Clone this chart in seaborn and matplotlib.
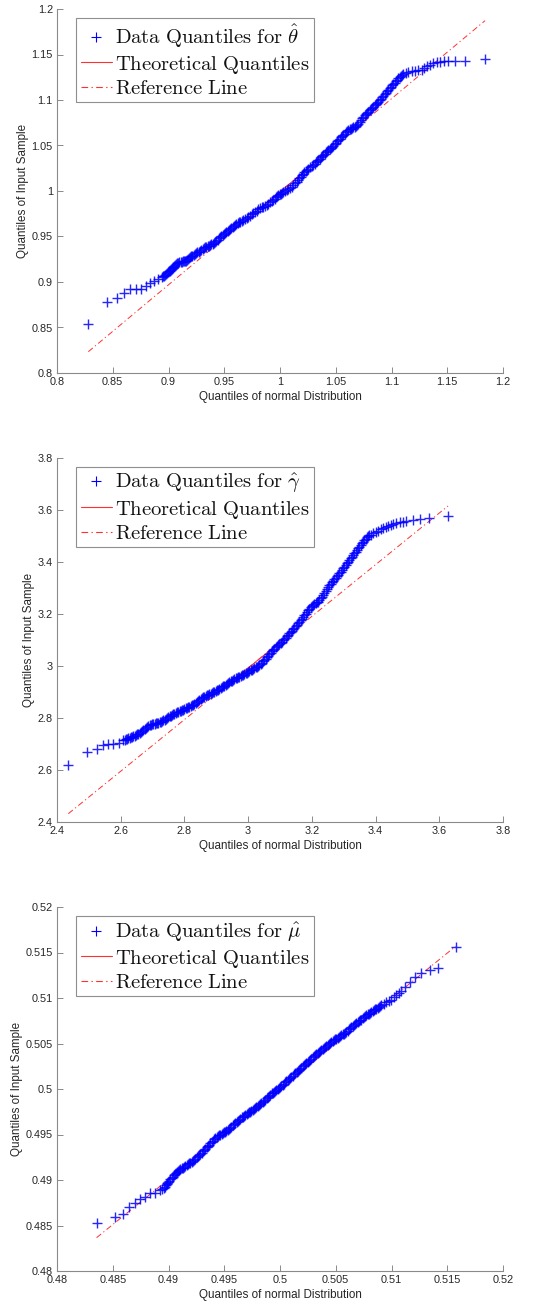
import numpy as np
import pandas as pd
import matplotlib
matplotlib.use("Agg")
import matplotlib.pyplot as plt
from matplotlib.lines import Line2D
import seaborn as sns

# ---------------- data ----------------
theta_x = [0.8281, 0.8451, 0.8541, 0.8604, 0.8655, 0.8706, 0.8753, 0.8798, 0.8834, 0.8870, 0.8909, 0.8945,
           0.8952, 0.8960, 0.8968, 0.8975, 0.8985, 0.8995, 0.9005, 0.9014, 0.9022, 0.9029, 0.9037, 0.9044,
           0.9053, 0.9062, 0.9071, 0.9079, 0.9089, 0.9098, 0.9108, 0.9118, 0.9128, 0.9137, 0.9147, 0.9157,
           0.9166, 0.9175, 0.9184, 0.9193, 0.9204, 0.9215, 0.9227, 0.9238, 0.9249, 0.9260, 0.9272, 0.9283,
           0.9294, 0.9305, 0.9317, 0.9328, 0.9339, 0.9350, 0.9361, 0.9372, 0.9384, 0.9395, 0.9406, 0.9417,
           0.9429, 0.9440, 0.9451, 0.9462, 0.9474, 0.9485, 0.9496, 0.9507, 0.9519, 0.9530, 0.9541, 0.9552,
           0.9564, 0.9575, 0.9586, 0.9597, 0.9609, 0.9620, 0.9631, 0.9642, 0.9656, 0.9671, 0.9686, 0.9701,
           0.9716, 0.9731, 0.9746, 0.9761, 0.9776, 0.9791, 0.9806, 0.9821, 0.9836, 0.9851, 0.9866, 0.9881,
           0.9896, 0.9911, 0.9926, 0.9941, 0.9952, 0.9963, 0.9974, 0.9985, 0.9997, 1.0008, 1.0019, 1.0030,
           1.0045, 1.0060, 1.0075, 1.0090, 1.0105, 1.0120, 1.0135, 1.0150, 1.0161, 1.0172, 1.0184, 1.0195,
           1.0206, 1.0217, 1.0229, 1.0240, 1.0255, 1.0270, 1.0285, 1.0299, 1.0311, 1.0322, 1.0333, 1.0344,
           1.0356, 1.0367, 1.0378, 1.0389, 1.0401, 1.0412, 1.0423, 1.0434, 1.0446, 1.0457, 1.0468, 1.0479,
           1.0491, 1.0502, 1.0513, 1.0524, 1.0535, 1.0546, 1.0557, 1.0568, 1.0580, 1.0591, 1.0602, 1.0613,
           1.0625, 1.0636, 1.0647, 1.0658, 1.0670, 1.0681, 1.0692, 1.0703, 1.0715, 1.0726, 1.0737, 1.0748,
           1.0760, 1.0771, 1.0782, 1.0793, 1.0805, 1.0816, 1.0827, 1.0838, 1.0849, 1.0860, 1.0871, 1.0882,
           1.0894, 1.0905, 1.0916, 1.0927, 1.0939, 1.0950, 1.0961, 1.0972, 1.0984, 1.0995, 1.1006, 1.1017,
           1.1029, 1.1040, 1.1051, 1.1062, 1.1074, 1.1085, 1.1096, 1.1107,
           1.1130, 1.1152, 1.1181, 1.1211, 1.1241, 1.1271, 1.1294, 1.1316, 1.1346, 1.1376, 1.1406, 1.1436,
           1.1473, 1.1510, 1.1570, 1.1660, 1.1839]
theta_y = [0.8535, 0.8784, 0.8828, 0.8875, 0.8919, 0.8919, 0.8927, 0.8960, 0.8985, 0.9011, 0.9029, 0.9051,
           0.9062, 0.9070, 0.9079, 0.9088, 0.9098, 0.9107, 0.9116, 0.9125, 0.9136, 0.9147, 0.9158, 0.9169,
           0.9179, 0.9188, 0.9197, 0.9205, 0.9211, 0.9215, 0.9219, 0.9223, 0.9226, 0.9228, 0.9231, 0.9234,
           0.9243, 0.9252, 0.9262, 0.9271, 0.9281, 0.9290, 0.9299, 0.9308, 0.9317, 0.9326, 0.9335, 0.9344,
           0.9353, 0.9362, 0.9372, 0.9381, 0.9388, 0.9394, 0.9400, 0.9407, 0.9415, 0.9423, 0.9431, 0.9440,
           0.9453, 0.9466, 0.9479, 0.9491, 0.9502, 0.9513, 0.9524, 0.9535, 0.9548, 0.9561, 0.9574, 0.9586,
           0.9596, 0.9606, 0.9616, 0.9626, 0.9636, 0.9645, 0.9654, 0.9663, 0.9673, 0.9682, 0.9691, 0.9700,
           0.9714, 0.9728, 0.9742, 0.9755, 0.9769, 0.9783, 0.9797, 0.9810, 0.9819, 0.9828, 0.9837, 0.9846,
           0.9860, 0.9874, 0.9888, 0.9901, 0.9915, 0.9929, 0.9943, 0.9956, 0.9963, 0.9970, 0.9978, 0.9985,
           0.9996, 1.0007, 1.0018, 1.0029, 1.0048, 1.0066, 1.0085, 1.0103, 1.0122, 1.0140, 1.0158, 1.0176,
           1.0190, 1.0204, 1.0218, 1.0231, 1.0245, 1.0259, 1.0273, 1.0286, 1.0300, 1.0314, 1.0328, 1.0341,
           1.0355, 1.0369, 1.0383, 1.0396, 1.0410, 1.0424, 1.0438, 1.0451, 1.0463, 1.0475, 1.0487, 1.0498,
           1.0514, 1.0529, 1.0545, 1.0560, 1.0574, 1.0588, 1.0602, 1.0615, 1.0629, 1.0643, 1.0657, 1.0670,
           1.0678, 1.0686, 1.0693, 1.0700, 1.0708, 1.0716, 1.0726, 1.0736, 1.0757, 1.0777, 1.0797, 1.0817,
           1.0831, 1.0845, 1.0859, 1.0872, 1.0886, 1.0900, 1.0914, 1.0927, 1.0941, 1.0955, 1.0969, 1.0982,
           1.0998, 1.1013, 1.1029, 1.1044, 1.1061, 1.1077, 1.1094, 1.1110, 1.1127, 1.1143, 1.1160, 1.1176,
           1.1192, 1.1207, 1.1223, 1.1238, 1.1250, 1.1262, 1.1274, 1.1286,
           1.1300, 1.1311, 1.1318, 1.1322, 1.1326, 1.1330, 1.1352, 1.1374, 1.1390, 1.1403, 1.1413, 1.1421,
           1.1426, 1.1429, 1.1429, 1.1432, 1.1447]
theta_ref_x = [0.8281, 1.1839]
theta_ref_y = [0.8234, 1.1872]
theta_theo_x = [0.9695, 1.0425]
theta_theo_y = [0.9680, 1.0426]

gamma_x = [2.4356, 2.4931, 2.5244, 2.5453, 2.5610, 2.5767, 2.5945, 2.6081,
           2.6120, 2.6160, 2.6199, 2.6238, 2.6277, 2.6316, 2.6355, 2.6394, 2.6433, 2.6473, 2.6512, 2.6551,
           2.6590, 2.6630, 2.6669, 2.6708, 2.6747, 2.6787, 2.6826, 2.6865, 2.6904, 2.6944, 2.6983, 2.7022,
           2.7061, 2.7100, 2.7140, 2.7179, 2.7218, 2.7258, 2.7297, 2.7336, 2.7375, 2.7414, 2.7453, 2.7492,
           2.7532, 2.7571, 2.7610, 2.7649, 2.7688, 2.7728, 2.7767, 2.7806, 2.7846, 2.7885, 2.7924, 2.7963,
           2.8002, 2.8042, 2.8081, 2.8120, 2.8159, 2.8198, 2.8238, 2.8277, 2.8316, 2.8355, 2.8394, 2.8433,
           2.8472, 2.8512, 2.8551, 2.8590, 2.8629, 2.8668, 2.8708, 2.8747, 2.8786, 2.8826, 2.8865, 2.8904,
           2.8943, 2.8982, 2.9022, 2.9061, 2.9100, 2.9140, 2.9179, 2.9218, 2.9257, 2.9296, 2.9335, 2.9374,
           2.9414, 2.9453, 2.9492, 2.9531, 2.9570, 2.9610, 2.9649, 2.9688, 2.9727, 2.9766, 2.9806, 2.9845,
           2.9884, 2.9924, 2.9963, 3.0002, 3.0041, 3.0080, 3.0120, 3.0159, 3.0198, 3.0237, 3.0276, 3.0315,
           3.0354, 3.0394, 3.0433, 3.0472, 3.0511, 3.0550, 3.0590, 3.0629, 3.0668, 3.0708, 3.0747, 3.0786,
           3.0825, 3.0864, 3.0904, 3.0943, 3.0982, 3.1022, 3.1061, 3.1100, 3.1139, 3.1178, 3.1217, 3.1256,
           3.1295, 3.1334, 3.1374, 3.1413, 3.1452, 3.1492, 3.1531, 3.1570, 3.1609, 3.1648, 3.1688, 3.1727,
           3.1766, 3.1806, 3.1845, 3.1884, 3.1923, 3.1962, 3.2002, 3.2041, 3.2080, 3.2119, 3.2158, 3.2197,
           3.2236, 3.2276, 3.2315, 3.2354, 3.2393, 3.2432, 3.2472, 3.2511, 3.2550, 3.2590, 3.2629, 3.2668,
           3.2707, 3.2746, 3.2786, 3.2825, 3.2864, 3.2904, 3.2943, 3.2982, 3.3021, 3.3060, 3.3099, 3.3138,
           3.3177, 3.3216, 3.3256, 3.3295, 3.3334, 3.3374, 3.3413, 3.3452, 3.3491, 3.3530, 3.3570, 3.3609,
           3.3648, 3.3688, 3.3727, 3.3766, 3.3805, 3.3844,
           3.3923, 3.4002, 3.4080, 3.4158, 3.4236, 3.4314, 3.4393, 3.4472, 3.4550, 3.4655, 3.4759, 3.4864,
           3.4968, 3.5178, 3.5387, 3.5679, 3.6275]
gamma_y = [2.6203, 2.6677, 2.6805, 2.6959, 2.7010, 2.7010, 2.7035, 2.7138,
           2.7159, 2.7180, 2.7204, 2.7228, 2.7244, 2.7260, 2.7276, 2.7292, 2.7316, 2.7340, 2.7367, 2.7394,
           2.7432, 2.7470, 2.7509, 2.7548, 2.7586, 2.7625, 2.7664, 2.7702, 2.7724, 2.7745, 2.7762, 2.7778,
           2.7784, 2.7790, 2.7797, 2.7804, 2.7830, 2.7855, 2.7880, 2.7906, 2.7938, 2.7970, 2.8002, 2.8035,
           2.8064, 2.8092, 2.8121, 2.8150, 2.8172, 2.8195, 2.8218, 2.8240, 2.8259, 2.8278, 2.8297, 2.8316,
           2.8342, 2.8368, 2.8394, 2.8419, 2.8442, 2.8464, 2.8486, 2.8508, 2.8540, 2.8572, 2.8604, 2.8636,
           2.8674, 2.8713, 2.8752, 2.8790, 2.8816, 2.8842, 2.8868, 2.8893, 2.8916, 2.8938, 2.8960, 2.8982,
           2.9008, 2.9034, 2.9060, 2.9085, 2.9117, 2.9149, 2.9181, 2.9213, 2.9245, 2.9277, 2.9309, 2.9341,
           2.9373, 2.9405, 2.9437, 2.9469, 2.9494, 2.9520, 2.9546, 2.9572, 2.9594, 2.9616, 2.9638, 2.9661,
           2.9690, 2.9719, 2.9748, 2.9777, 2.9802, 2.9828, 2.9854, 2.9879, 2.9911, 2.9943, 2.9975, 3.0007,
           3.0048, 3.0090, 3.0132, 3.0174, 3.0228, 3.0282, 3.0336, 3.0391, 3.0448, 3.0506, 3.0564, 3.0622,
           3.0670, 3.0718, 3.0766, 3.0814, 3.0856, 3.0898, 3.0940, 3.0981, 3.1036, 3.1090, 3.1144, 3.1198,
           3.1252, 3.1307, 3.1362, 3.1416, 3.1474, 3.1532, 3.1590, 3.1647, 3.1704, 3.1762, 3.1820, 3.1877,
           3.1948, 3.2018, 3.2088, 3.2159, 3.2207, 3.2255, 3.2303, 3.2351, 3.2383, 3.2415, 3.2447, 3.2479,
           3.2544, 3.2608, 3.2672, 3.2736, 3.2816, 3.2896, 3.2976, 3.3056, 3.3114, 3.3171, 3.3228, 3.3286,
           3.3340, 3.3395, 3.3450, 3.3504, 3.3568, 3.3632, 3.3696, 3.3760, 3.3824, 3.3888, 3.3952, 3.4016,
           3.4080, 3.4145, 3.4209, 3.4273, 3.4337, 3.4401, 3.4465, 3.4529, 3.4593, 3.4657, 3.4721, 3.4785,
           3.4840, 3.4894, 3.4948, 3.5003, 3.5028, 3.5054,
           3.5105, 3.5156, 3.5208, 3.5252, 3.5297, 3.5342, 3.5387, 3.5425, 3.5464, 3.5496, 3.5528, 3.5554,
           3.5579, 3.5618, 3.5643, 3.5707, 3.5784]
gamma_ref_x = [2.4356, 3.6275]
gamma_ref_y = [2.4320, 3.6156]
gamma_theo_x = [2.9094, 3.1537]
gamma_theo_y = [2.9025, 3.1451]

mu_x = [0.48355, 0.48520, 0.48594, 0.48648, 0.48699, 0.48744, 0.48789, 0.48833, 0.48878, 0.48923, 0.48945,
        0.48957, 0.48968, 0.48976, 0.48983, 0.48991, 0.48998, 0.49008, 0.49017, 0.49027, 0.49036, 0.49045,
        0.49054, 0.49063, 0.49072, 0.49084, 0.49095, 0.49106, 0.49117, 0.49129, 0.49140, 0.49151, 0.49162,
        0.49174, 0.49185, 0.49196, 0.49207, 0.49219, 0.49230, 0.49241, 0.49252, 0.49263, 0.49274, 0.49285,
        0.49296, 0.49307, 0.49318, 0.49330, 0.49341, 0.49353, 0.49364, 0.49375, 0.49386, 0.49397, 0.49408,
        0.49420, 0.49431, 0.49443, 0.49454, 0.49465, 0.49476, 0.49487, 0.49498, 0.49509, 0.49520, 0.49532,
        0.49543, 0.49554, 0.49565, 0.49577, 0.49588, 0.49599, 0.49610, 0.49621, 0.49632, 0.49644, 0.49655,
        0.49667, 0.49678, 0.49689, 0.49700, 0.49711, 0.49722, 0.49733, 0.49744, 0.49755, 0.49766, 0.49778,
        0.49789, 0.49801, 0.49812, 0.49823, 0.49834, 0.49845, 0.49856, 0.49868, 0.49879, 0.49891, 0.49902,
        0.49913, 0.49924, 0.49935, 0.49946, 0.49957, 0.49968, 0.49979, 0.49990, 0.50002, 0.50013, 0.50025,
        0.50036, 0.50047, 0.50058, 0.50069, 0.50080, 0.50092, 0.50103, 0.50115, 0.50126, 0.50137, 0.50148,
        0.50159, 0.50170, 0.50181, 0.50192, 0.50203, 0.50214, 0.50226, 0.50237, 0.50249, 0.50260, 0.50271,
        0.50282, 0.50293, 0.50304, 0.50316, 0.50327, 0.50339, 0.50350, 0.50361, 0.50372, 0.50383, 0.50394,
        0.50405, 0.50416, 0.50427, 0.50438, 0.50450, 0.50461, 0.50473, 0.50484, 0.50495, 0.50506, 0.50517,
        0.50528, 0.50540, 0.50551, 0.50563, 0.50574, 0.50585, 0.50596, 0.50607, 0.50618, 0.50629, 0.50640,
        0.50651, 0.50662, 0.50674, 0.50685, 0.50697, 0.50708, 0.50719, 0.50730, 0.50741, 0.50752, 0.50764,
        0.50775, 0.50787, 0.50798, 0.50809, 0.50820, 0.50831, 0.50842, 0.50854, 0.50865, 0.50876, 0.50887,
        0.50898, 0.50909,
        0.50932, 0.50954, 0.50976, 0.50999, 0.51021, 0.51044, 0.51066, 0.51089, 0.51119, 0.51163, 0.51208,
        0.51268, 0.51342, 0.51417, 0.51575]
mu_y = [0.48531, 0.48589, 0.48626, 0.48706, 0.48750, 0.48787, 0.48816, 0.48853, 0.48860, 0.48889, 0.48905,
        0.48915, 0.48926, 0.48940, 0.48953, 0.48967, 0.48981, 0.48994, 0.49008, 0.49022, 0.49036, 0.49050,
        0.49063, 0.49077, 0.49091, 0.49100, 0.49109, 0.49118, 0.49127, 0.49136, 0.49145, 0.49155, 0.49164,
        0.49173, 0.49182, 0.49191, 0.49200, 0.49212, 0.49224, 0.49236, 0.49248, 0.49261, 0.49273, 0.49286,
        0.49299, 0.49314, 0.49328, 0.49343, 0.49358, 0.49374, 0.49389, 0.49405, 0.49420, 0.49434, 0.49448,
        0.49462, 0.49475, 0.49483, 0.49490, 0.49497, 0.49504, 0.49513, 0.49522, 0.49532, 0.49541, 0.49552,
        0.49563, 0.49574, 0.49585, 0.49599, 0.49612, 0.49626, 0.49639, 0.49651, 0.49663, 0.49675, 0.49687,
        0.49697, 0.49706, 0.49715, 0.49724, 0.49733, 0.49742, 0.49751, 0.49760, 0.49769, 0.49778, 0.49788,
        0.49797, 0.49808, 0.49819, 0.49830, 0.49841, 0.49855, 0.49868, 0.49882, 0.49896, 0.49910, 0.49924,
        0.49938, 0.49951, 0.49960, 0.49969, 0.49978, 0.49987, 0.49998, 0.50009, 0.50020, 0.50031, 0.50045,
        0.50058, 0.50072, 0.50086, 0.50098, 0.50110, 0.50122, 0.50134, 0.50148, 0.50161, 0.50175, 0.50188,
        0.50200, 0.50212, 0.50224, 0.50236, 0.50249, 0.50262, 0.50275, 0.50287, 0.50299, 0.50311, 0.50323,
        0.50335, 0.50349, 0.50362, 0.50376, 0.50390, 0.50401, 0.50412, 0.50423, 0.50434, 0.50443, 0.50452,
        0.50461, 0.50470, 0.50482, 0.50494, 0.50506, 0.50518, 0.50527, 0.50536, 0.50545, 0.50554, 0.50563,
        0.50572, 0.50582, 0.50591, 0.50600, 0.50609, 0.50619, 0.50628, 0.50642, 0.50656, 0.50670, 0.50683,
        0.50694, 0.50704, 0.50715, 0.50726, 0.50735, 0.50744, 0.50754, 0.50763, 0.50775, 0.50787, 0.50799,
        0.50811, 0.50820, 0.50829, 0.50838, 0.50847, 0.50857, 0.50866, 0.50875, 0.50884, 0.50893, 0.50902,
        0.50911, 0.50920,
        0.50938, 0.50957, 0.50970, 0.50983, 0.51006, 0.51030, 0.51052, 0.51074, 0.51122, 0.51177, 0.51231,
        0.51275, 0.51312, 0.51334, 0.51561]
mu_ref_x = [0.48355, 0.51575]
mu_ref_y = [0.48366, 0.51568]
mu_theo_x = [0.49635, 0.50295]
mu_theo_y = [0.49639, 0.50295]

theta_ticks = [0.8, 0.85, 0.9, 0.95, 1.0, 1.05, 1.1, 1.15, 1.2]
theta_labels = ["0.8", "0.85", "0.9", "0.95", "1", "1.05", "1.1", "1.15", "1.2"]
gamma_ticks = [2.4, 2.6, 2.8, 3.0, 3.2, 3.4, 3.6, 3.8]
gamma_labels = ["2.4", "2.6", "2.8", "3", "3.2", "3.4", "3.6", "3.8"]
mu_ticks = [0.48, 0.485, 0.49, 0.495, 0.5, 0.505, 0.51, 0.515, 0.52]
mu_labels = ["0.48", "0.485", "0.49", "0.495", "0.5", "0.505", "0.51", "0.515", "0.52"]

legend_first = [r"$\mathrm{Data\ Quantiles\ for\ }\hat{\theta}$",
                r"$\mathrm{Data\ Quantiles\ for\ }\hat{\gamma}$",
                r"$\mathrm{Data\ Quantiles\ for\ }\hat{\mu}$"]
legend_rest = [r"$\mathrm{Theoretical\ Quantiles}$", r"$\mathrm{Reference\ Line}$"]
xlabel_text = "Quantiles of normal Distribution"
ylabel_text = "Quantiles of Input Sample"

for a, b in [(theta_x, theta_y), (gamma_x, gamma_y), (mu_x, mu_y)]:
    if len(a) != len(b):
        raise ValueError(f"length mismatch {len(a)} vs {len(b)}")

# ---------------- styling ----------------
sns.set_theme(style="white")
plt.rcParams["font.family"] = ["Liberation Sans", "DejaVu Sans"]
plt.rcParams["mathtext.fontset"] = "cm"

W, H = 540, 1303
fig = plt.figure(figsize=(W / 100, H / 100), dpi=100)

panels = [
    (theta_x, theta_y, theta_ref_x, theta_ref_y, theta_theo_x, theta_theo_y, theta_ticks, theta_labels, legend_first[0], 9),
    (gamma_x, gamma_y, gamma_ref_x, gamma_ref_y, gamma_theo_x, gamma_theo_y, gamma_ticks, gamma_labels, legend_first[1], 458),
    (mu_x, mu_y, mu_ref_x, mu_ref_y, mu_theo_x, mu_theo_y, mu_ticks, mu_labels, legend_first[2], 907),
]

AX_L, AX_W, AX_H = 57, 446, 364
blue = "#0000ff"
red = "#ff3030"
dashdot = (0, (6, 3, 1.2, 3))
spine_col = "#8a8a8a"
text_col = "#262626"

for xs, ys, rx, ry, tx, ty, ticks, tlabels, lab0, top in panels:
    ax = fig.add_axes([AX_L / W, 1 - (top + AX_H) / H, AX_W / W, AX_H / H])
    sns.lineplot(x=tx, y=ty, color=red, linewidth=0.7, ax=ax,
                 estimator=None, sort=False, zorder=1)
    sns.lineplot(x=rx, y=ry, color=red, linewidth=0.7, ax=ax,
                 estimator=None, sort=False, zorder=1)
    ax.lines[-1].set_linestyle(dashdot)
    df = pd.DataFrame({"x": xs, "y": ys})
    sns.scatterplot(data=df, x="x", y="y", marker="+", s=55, color=blue,
                    linewidth=1.0, alpha=0.85, ax=ax, legend=False, zorder=2)

    ax.set_xlim(ticks[0], ticks[-1])
    ax.set_ylim(ticks[0], ticks[-1])
    ax.set_xticks(ticks)
    ax.set_xticklabels(tlabels)
    ax.set_yticks(ticks)
    ax.set_yticklabels(tlabels)
    sns.despine(ax=ax)
    for side in ("left", "bottom"):
        ax.spines[side].set_color(spine_col)
        ax.spines[side].set_linewidth(0.8)
    ax.tick_params(axis="both", which="both", direction="in", length=4, width=0.7,
                   color=spine_col, labelsize=7.8, labelcolor=text_col, pad=3,
                   left=True, bottom=True)
    ax.set_xlabel(xlabel_text, fontsize=8.4, color=text_col, labelpad=3)
    ax.set_ylabel(ylabel_text, fontsize=8.4, color=text_col, labelpad=2)

    handles = [
        Line2D([], [], marker="+", color=blue, linestyle="none", markersize=7, markeredgewidth=0.8),
        Line2D([], [], color=red, linewidth=0.8),
        Line2D([], [], color=red, linewidth=0.8, linestyle=dashdot),
    ]
    leg = ax.legend(handles, [lab0] + legend_rest, loc="upper left",
                    bbox_to_anchor=(0.043, 0.975), fontsize=14.8, frameon=True,
                    fancybox=False, framealpha=1, edgecolor="#8f8f8f",
                    borderpad=0.22, labelspacing=0.16, handlelength=1.5,
                    handletextpad=0.15, borderaxespad=0)
    leg.get_frame().set_linewidth(0.8)
    for t in leg.get_texts():
        t.set_color("#111111")

fig.savefig("out.png", dpi=100)
